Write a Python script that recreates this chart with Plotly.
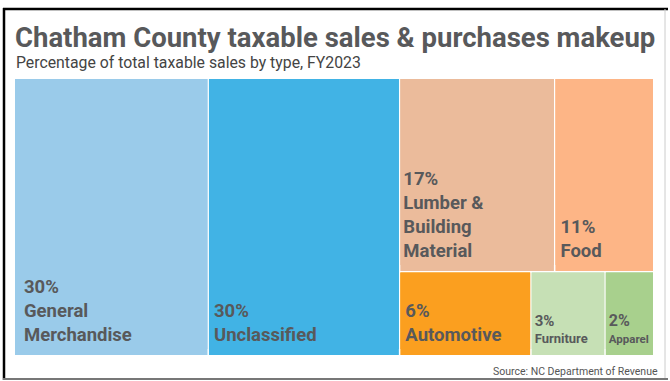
import plotly.graph_objects as go

W, H = 670, 381

categories = ["General Merchandise", "Unclassified", "Lumber & Building Material",
              "Food", "Automotive", "Furniture", "Apparel"]
display_labels = ["General<br>Merchandise", "Unclassified", "Lumber &<br>Building<br>Material",
                  "Food", "Automotive", "Furniture", "Apparel"]
shares = [30.3, 29.9, 16.9, 10.8, 6.2, 3.5, 2.3]
pct_labels = ["30%", "30%", "17%", "11%", "6%", "3%", "2%"]

# styling (kept apart from the data)
colors = ["#9ACBEA", "#41B3E5", "#EBBB9B", "#FDB586", "#FB9F1F", "#C6E0B5", "#A8D08D"]
base_size = [18.5, 18.5, 18.5, 18.5, 18.5, 13, 13]
pct_size = [18.5, 18.5, 18.5, 18.5, 18.5, 15, 16]
name_size = [18.5, 18.5, 18.5, 18.5, 18.5, 13, 11.5]
indent_px = [6, 2, 0, 2, 2, 0, 0]

# Plot area in pixels
x0, x1, y0, y1 = 15, 653, 79, 355
PAD_B = 6

NBW = 0.25  # approx. width of a no-break space in em


def indent(px_w, base):
    if px_w <= 0:
        return ""
    out = ""
    rem = px_w
    if rem >= NBW * base:
        out += "\u00a0"
        rem -= NBW * base
    if rem > 0.5:
        out += f"<span style='font-size:{rem / NBW:.1f}px'>\u00a0</span>"
    return out


def sized(txt, size, base):
    if size == base:
        return txt
    return f"<span style='font-size:{size}px'>{txt}</span>"


ids, labels, parents, values, texts, cols, sizes = [], [], [], [], [], [], []
ids.append("root"); labels.append(""); parents.append(""); values.append(sum(shares))
texts.append(""); cols.append("white"); sizes.append(10)
for i, c in enumerate(categories):
    v = shares[i]
    ids.append("cat_" + c); labels.append(""); parents.append("root"); values.append(v)
    texts.append(""); cols.append(colors[i]); sizes.append(10)
    lead = indent(indent_px[i], base_size[i])
    lines = [sized(pct_labels[i], pct_size[i], base_size[i])]
    lines += [sized(ln, name_size[i], base_size[i]) for ln in display_labels[i].split("<br>")]
    t = "<br>".join(lead + ln for ln in lines)
    ids.append("leaf_" + c); labels.append(c); parents.append("cat_" + c); values.append(v)
    texts.append(t); cols.append(colors[i]); sizes.append(base_size[i])

fig = go.Figure(go.Treemap(
    ids=ids,
    labels=labels,
    parents=parents,
    values=values,
    branchvalues="total",
    text=texts,
    texttemplate="%{text}",
    textposition="bottom left",
    textfont=dict(family="Roboto", size=sizes, color="#58595B", weight="bold"),
    marker=dict(colors=cols, line=dict(width=0), pad=dict(t=0, l=0, r=0, b=PAD_B)),
    tiling=dict(packing="squarify", pad=1.5),
    pathbar=dict(visible=False),
    sort=True,
    hoverinfo="skip",
    domain=dict(x=[x0 / W, x1 / W], y=[1 - (y1 + PAD_B) / H, 1 - y0 / H]),
))


def px(x):
    return x / W


def py(y):
    return 1 - y / H


fig.update_layout(
    width=W, height=H,
    margin=dict(l=0, r=0, t=0, b=0),
    paper_bgcolor="white",
    annotations=[
        dict(text="<b>Chatham County taxable sales &amp; purchases makeup</b>", x=px(13), y=py(37.5),
             xref="paper", yref="paper", xanchor="left", yanchor="middle", showarrow=False,
             font=dict(family="Roboto", size=27.5, color="#58595B")),
        dict(text="Percentage of total taxable sales by type, FY2023", x=px(14), y=py(62.5),
             xref="paper", yref="paper", xanchor="left", yanchor="middle", showarrow=False,
             font=dict(family="Roboto", size=15.8, color="#444444")),
        dict(text="Source: NC Department of Revenue", x=px(660), y=py(371),
             xref="paper", yref="paper", xanchor="right", yanchor="middle", showarrow=False,
             font=dict(family="Roboto", size=10.5, color="#555555")),
    ],
    shapes=[
        dict(type="line", xref="paper", yref="paper", x0=px(4), x1=px(4), y0=py(8), y1=py(380),
             line=dict(color="black", width=2.5)),
        dict(type="line", xref="paper", yref="paper", x0=px(3), x1=px(668), y0=py(9), y1=py(9),
             line=dict(color="black", width=2.5)),
        dict(type="line", xref="paper", yref="paper", x0=px(665), x1=px(665), y0=py(9), y1=py(380),
             line=dict(color="#CCCCCC", width=1)),
        dict(type="line", xref="paper", yref="paper", x0=px(3), x1=px(668), y0=py(379), y1=py(379),
             line=dict(color="#777777", width=2)),
    ],
)

fig.write_html("out.html", config={"displayModeBar": False},
               post_script="document.body.style.margin='0px';")
